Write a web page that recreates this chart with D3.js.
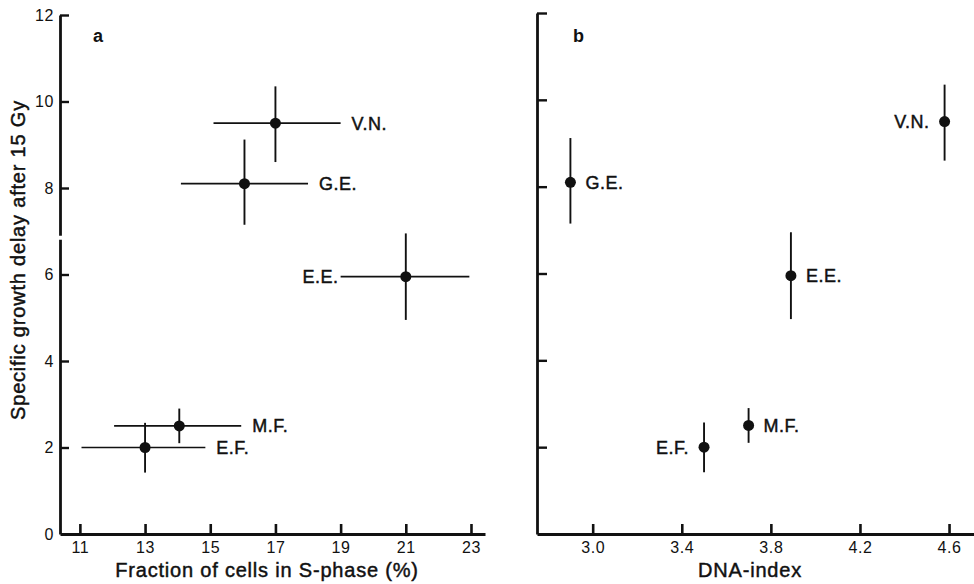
<!DOCTYPE html>
<html>
<head>
<meta charset="utf-8">
<script src="https://cdn.jsdelivr.net/npm/d3@7"></script>
<style>
  body { margin: 0; background: #fff; }
  svg { display: block; font-family: "Liberation Sans", Arial, Helvetica, sans-serif; }
  .tick text { font-size: 16px; letter-spacing: 0.6px; fill: #111; }
  .domain, .tick line { stroke: #111; }
  .heavy { stroke: #111; stroke-width: 0.45px; }
</style>
</head>
<body>
<svg id="chart" width="974" height="584"></svg>
<script>
// ---- data ----
const tumours   = ["V.N.", "G.E.", "E.E.", "M.F.", "E.F."];
const sPhase    = [17.0, 16.05, 21.0, 14.05, 13.0];
const sPhaseLo  = [15.1, 14.1, 19.0, 12.05, 11.05];
const sPhaseHi  = [19.0, 18.0, 22.95, 15.95, 14.85];
const dnaIndex  = [4.58, 2.90, 3.89, 3.70, 3.50];
const delay     = [9.5, 8.1, 5.95, 2.5, 2.0];
const delayLo   = [8.6, 7.15, 4.95, 2.1, 1.42];
const delayHi   = [10.35, 9.12, 6.95, 2.9, 2.57];
const yTicks    = [0, 2, 4, 6, 8, 10, 12];
const xTicksA   = [11, 13, 15, 17, 19, 21, 23];
const xTicksB   = [3.0, 3.4, 3.8, 4.2, 4.6];
const xTitleA   = "Fraction of cells in S-phase (%)";
const xTitleB   = "DNA-index";
const yTitle    = "Specific growth delay after 15 Gy";

// ---- layout ----
const svg = d3.select("#chart");
const ink = "#111";

// label side per tumour (+1 right of mark, -1 left)
const sideA = [1, 1, -1, 1, 1];
const sideB = [-1, 1, 1, 1, -1];

function panel(opts) {
  const g = svg.append("g");
  const x = d3.scaleLinear().domain(opts.xDomain).range(opts.xRange);
  const y = d3.scaleLinear().domain([0, 12]).range(opts.yRange);

  // x axis
  const xa = g.append("g")
    .attr("transform", `translate(0,${opts.yRange[0]})`)
    .call(d3.axisBottom(x).tickValues(opts.xTicks)
      .tickFormat(opts.xFormat).tickSizeInner(-10).tickSizeOuter(0).tickPadding(8));
  xa.select(".domain").attr("stroke-width", 2.8);
  xa.selectAll(".tick line").attr("stroke-width", 2.6);

  // y axis
  const ya = g.append("g")
    .attr("transform", `translate(${opts.xRange[0]},0)`)
    .call(d3.axisLeft(y).tickValues(yTicks)
      .tickFormat(opts.yLabels ? d3.format("d") : () => "")
      .tickSizeInner(-opts.yTick).tickSizeOuter(0).tickPadding(6));
  ya.select(".domain").attr("stroke-width", 2.8);
  ya.selectAll(".tick line").attr("stroke-width", 2.4);
  ya.selectAll(".tick").filter(d => d === 0).select("line").remove();

  if (opts.breakAt) {
    g.append("line")
      .attr("x1", opts.xRange[0] - 3).attr("x2", opts.xRange[0] + 3)
      .attr("y1", y(opts.breakAt)).attr("y2", y(opts.breakAt))
      .attr("stroke", "#fff").attr("stroke-width", 4);
  }

  // error bars
  const idx = d3.range(tumours.length);
  if (opts.xLo) {
    g.selectAll(".hbar").data(idx).join("line")
      .attr("x1", i => x(opts.xLo[i])).attr("x2", i => x(opts.xHi[i]))
      .attr("y1", i => y(delay[i])).attr("y2", i => y(delay[i]))
      .attr("stroke", ink).attr("stroke-width", 1.7);
  }
  g.selectAll(".vbar").data(idx).join("line")
    .attr("x1", i => x(opts.xVal[i])).attr("x2", i => x(opts.xVal[i]))
    .attr("y1", i => y(delayLo[i])).attr("y2", i => y(delayHi[i]))
    .attr("stroke", ink).attr("stroke-width", 1.9);

  // points
  g.selectAll(".pt").data(idx).join("circle")
    .attr("cx", i => x(opts.xVal[i])).attr("cy", i => y(delay[i]))
    .attr("r", 5.5).attr("fill", ink);

  // labels
  g.selectAll(".lab").data(idx).join("text")
    .attr("class", "heavy")
    .attr("x", i => {
      const s = opts.side[i];
      if (opts.xLo) {
        return s > 0 ? x(opts.xHi[i]) + 11 : x(opts.xLo[i]) - 2;
      }
      return x(opts.xVal[i]) + s * 15;
    })
    .attr("y", i => y(delay[i]))
    .attr("dy", "0.36em")
    .attr("text-anchor", i => opts.side[i] > 0 ? "start" : "end")
    .attr("font-size", 18).attr("letter-spacing", 0.5)
    .attr("fill", ink)
    .text(i => tumours[i]);

  // panel letter
  g.append("text")
    .attr("x", opts.letterX).attr("y", 42)
    .attr("font-size", 18).attr("font-weight", "bold").attr("fill", ink)
    .text(opts.letter);

  // x title
  g.append("text")
    .attr("class", "heavy")
    .attr("x", opts.titleX).attr("y", 577)
    .attr("text-anchor", "middle")
    .attr("font-size", 20).attr("letter-spacing", 0.8).attr("fill", ink)
    .text(opts.xTitle);
}

panel({
  xDomain: [10.39, 23.43], xRange: [60, 485], yRange: [534, 15],
  xTicks: xTicksA, xFormat: d3.format("d"), yLabels: true, yTick: 9,
  xVal: sPhase, xLo: sPhaseLo, xHi: sPhaseHi, side: sideA,
  letter: "a", letterX: 93, xTitle: xTitleA, titleX: 267, breakAt: 6.85
});

panel({
  xDomain: [2.75, 4.73], xRange: [537, 978], yRange: [534, 13],
  xTicks: xTicksB, xFormat: d3.format(".1f"), yLabels: false, yTick: 10,
  xVal: dnaIndex, xLo: null, xHi: null, side: sideB,
  letter: "b", letterX: 573, xTitle: xTitleB, titleX: 750, breakAt: null
});

// y title
svg.append("text")
  .attr("class", "heavy")
  .attr("transform", "translate(25,260) rotate(-90)")
  .attr("text-anchor", "middle")
  .attr("font-size", 20).attr("letter-spacing", 0.8).attr("fill", ink)
  .text(yTitle);
</script>
</body>
</html>
